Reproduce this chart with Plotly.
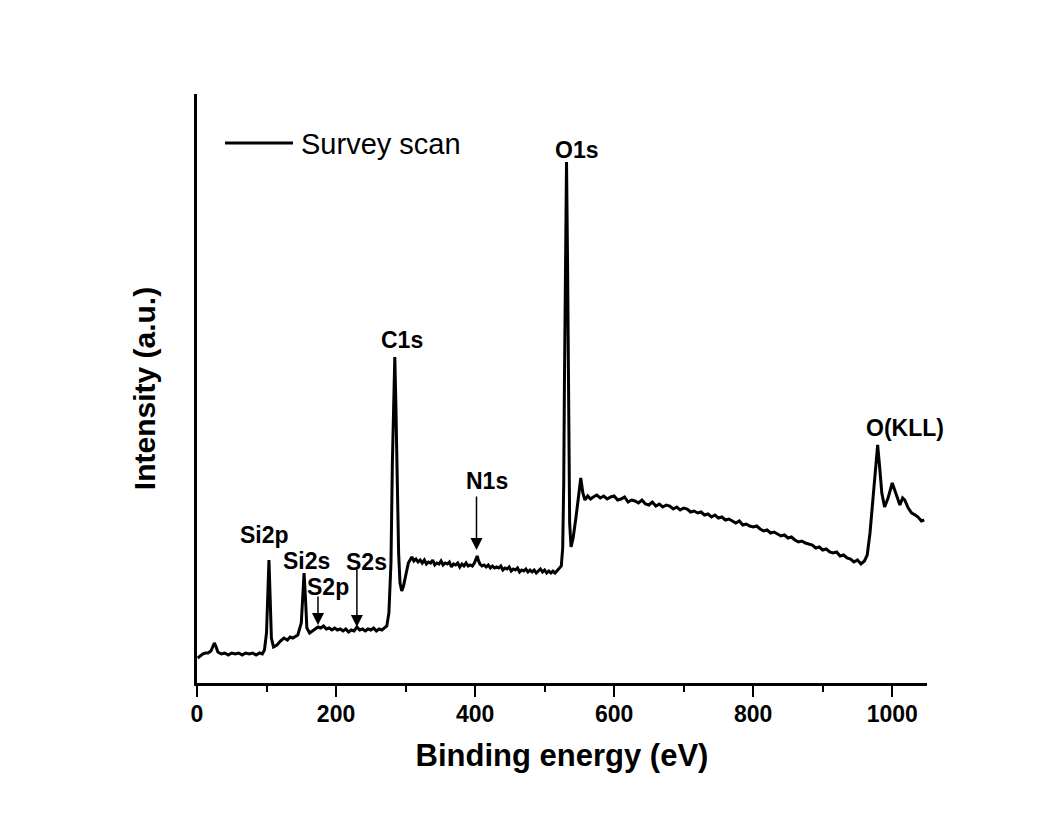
import plotly.graph_objects as go

# Binding energy (eV) and intensity (a.u.)
binding_energy = [
    1, 5, 8, 12, 16, 20, 22, 25, 27, 30, 35, 40, 45, 50, 55, 60, 65, 70,
    75, 80, 85, 90, 94, 97,
    100, 102, 103.5, 105, 107, 110, 115, 120, 125, 130, 134, 138, 142, 145,
    150, 152, 154, 156, 158, 162, 166, 170, 174, 178, 182, 186, 190, 194,
    198, 202, 206, 210, 214, 218, 222, 226, 230, 234, 238, 242, 246, 250,
    254, 258, 262, 266, 270, 273, 276, 279, 281, 283, 284.5, 286,
    288, 290, 292, 294.5, 297, 300, 304,
    309, 312, 315, 318, 321, 324, 327, 330, 333, 336, 339, 342, 345, 348,
    351, 354, 357, 360, 363, 366, 369, 372, 375, 378, 381, 384, 387, 390,
    393, 396, 399, 401, 403, 405, 407, 410, 413, 416, 419, 422, 425, 428,
    431, 434, 437, 440, 443, 446, 449, 452, 455, 458, 461, 464, 467, 470,
    473, 476, 479, 482, 485, 488, 491, 494, 497, 500, 503, 506, 509, 512,
    515, 518, 521, 524, 526, 527.5, 528.5, 530, 531.5,
    533, 534.5, 536, 538, 541, 545, 549, 552, 555,
    558, 562, 566, 570, 575, 580, 585, 590, 595, 600, 605, 610, 615, 620,
    625, 630, 635, 640, 645, 650, 655, 660, 665, 670, 675, 680, 685, 690,
    695, 700, 705, 710, 715, 720, 725, 730, 735, 740, 745, 750, 755, 760,
    765, 770, 775, 780, 785, 790, 795, 800, 805, 810, 815, 820, 825, 830,
    835, 840, 845, 850, 855, 860, 865, 870, 875, 880, 885, 890, 895, 900,
    905, 910, 915, 920, 925, 930, 935, 940, 945, 950, 955, 960, 964,
    968, 972, 976, 979, 982, 985, 989, 994, 1000,
    1005, 1011, 1015, 1018, 1023, 1028, 1033, 1037, 1042, 1046,
]
intensity = [
    25, 27, 29, 30, 30, 32, 35, 40, 37, 31, 29, 30, 28, 30, 29, 30, 28, 30,
    29, 30, 28, 30, 29, 33,
    50, 90, 123, 90, 45, 36, 38, 42, 45, 43, 46, 45, 47, 48,
    60, 85, 110, 85, 55, 50, 52, 54, 56, 55, 57, 54, 55, 53,
    55, 53, 54, 52, 54, 51, 53, 52, 56, 53, 54, 52, 54, 53,
    55, 52, 54, 53, 55, 57, 70, 120, 220, 300, 326, 280,
    200, 130, 100, 92, 97, 108, 120,
    126, 122, 124, 121, 123, 120, 123, 119, 121, 120, 123, 118, 120, 119,
    122, 118, 120, 119, 121, 116, 119, 118, 120, 116, 119, 117, 120, 117,
    118, 117, 120, 124, 127, 122, 119, 117, 118, 116, 118, 115, 117, 115,
    116, 115, 117, 113, 115, 114, 116, 112, 114, 113, 115, 111, 113, 112,
    114, 111, 113, 111, 113, 110, 112, 114, 111, 113, 110, 112, 110, 112,
    110, 112, 114, 117, 135, 200, 300, 440, 521,
    420, 250, 160, 136, 145, 165, 185, 205, 190,
    183, 187, 184, 186, 188, 185, 187, 184, 186, 187, 183, 184, 186, 181,
    183, 182, 180, 183, 179, 178, 181, 177, 179, 176, 178, 177, 174, 176,
    173, 175, 174, 171, 172, 170, 171, 168, 169, 166, 168, 165, 166, 163,
    164, 162, 160, 162, 158, 159, 157, 156, 157, 154, 152, 153, 150, 151,
    149, 147, 148, 145, 146, 143, 141, 142, 140, 139, 138, 135, 136, 133,
    134, 131, 130, 131, 127, 128, 125, 124, 121, 123, 119, 122, 128,
    150, 185, 220, 238, 215, 190, 176, 185, 200,
    190, 178, 185, 183, 175, 170, 168, 166, 162, 163,
]

# Peak labels: text, label position (eV, a.u.)
peak_names = ["Si2p", "Si2s", "S2p", "S2s", "C1s", "N1s", "O1s", "O(KLL)"]
label_x = [97, 158, 188, 244, 294.5, 417, 546, 1018]
label_y = [148, 122, 96, 121, 343, 202, 533, 255]

# Arrows: x position, tail y, head y
arrow_x = [174, 230, 402]
arrow_tail_y = [88, 115, 188]
arrow_head_y = [58, 56, 133]

x_ticks = [0, 200, 400, 600, 800, 1000]

W, H = 1057, 813
L, R, T, B = 197, 130, 94, 130
FONT = "Arial, Liberation Sans"

fig = go.Figure()
fig.add_trace(go.Scatter(
    x=binding_energy, y=intensity, mode="lines",
    line=dict(color="black", width=3), name="Survey scan",
    showlegend=False,
))

for name, lx, ly in zip(peak_names, label_x, label_y):
    fig.add_annotation(x=lx, y=ly, xref="x", yref="y", text="<b>%s</b>" % name,
                       showarrow=False, font=dict(family=FONT, size=23, color="black"),
                       xanchor="center", yanchor="middle")

for axx, ty, hy in zip(arrow_x, arrow_tail_y, arrow_head_y):
    fig.add_annotation(x=axx, y=hy, ax=axx, ay=ty, xref="x", yref="y", axref="x", ayref="y",
                       text="", showarrow=True, arrowhead=2, arrowsize=1.6, arrowwidth=1.5,
                       arrowcolor="black")

# legend sample (drawn manually to match the long line sample)
fig.add_shape(type="line", xref="paper", yref="paper", x0=0.0384, x1=0.1315, y0=0.9168, y1=0.9168,
              line=dict(color="black", width=3))
fig.add_annotation(xref="paper", yref="paper", x=0.1400, y=0.9150, text="Survey scan",
                   showarrow=False, xanchor="left", yanchor="middle",
                   font=dict(family=FONT, size=29, color="black"))

fig.update_layout(
    width=W, height=H,
    margin=dict(l=L, r=R, t=T, b=B, autoexpand=False),
    paper_bgcolor="white", plot_bgcolor="white",
    font=dict(family=FONT, color="black"),
)
fig.update_xaxes(
    range=[0, 1050], showgrid=False, zeroline=False,
    showline=True, linecolor="black", linewidth=2.6,
    ticks="outside", ticklen=11, tickwidth=2.2, tickcolor="black",
    tickvals=x_ticks, ticktext=["<b>%d</b>" % v for v in x_ticks],
    tickfont=dict(size=23, family=FONT, color="black"),
    ticklabelstandoff=-2,
    minor=dict(dtick=100, tick0=0, ticks="outside", ticklen=6, tickwidth=2.2, tickcolor="black", showgrid=False),
    title=dict(text="<b>Binding energy (eV)</b>", font=dict(size=31, family=FONT, color="black"),
               standoff=18),
)
fig.update_yaxes(
    range=[0, 589], showgrid=False, zeroline=False,
    showline=True, linecolor="black", linewidth=2.6,
    ticks="", showticklabels=False,
    title=dict(text="<b>Intensity (a.u.)</b>", font=dict(size=30, family=FONT, color="black"),
               standoff=30),
)

fig.write_html("out.html")
